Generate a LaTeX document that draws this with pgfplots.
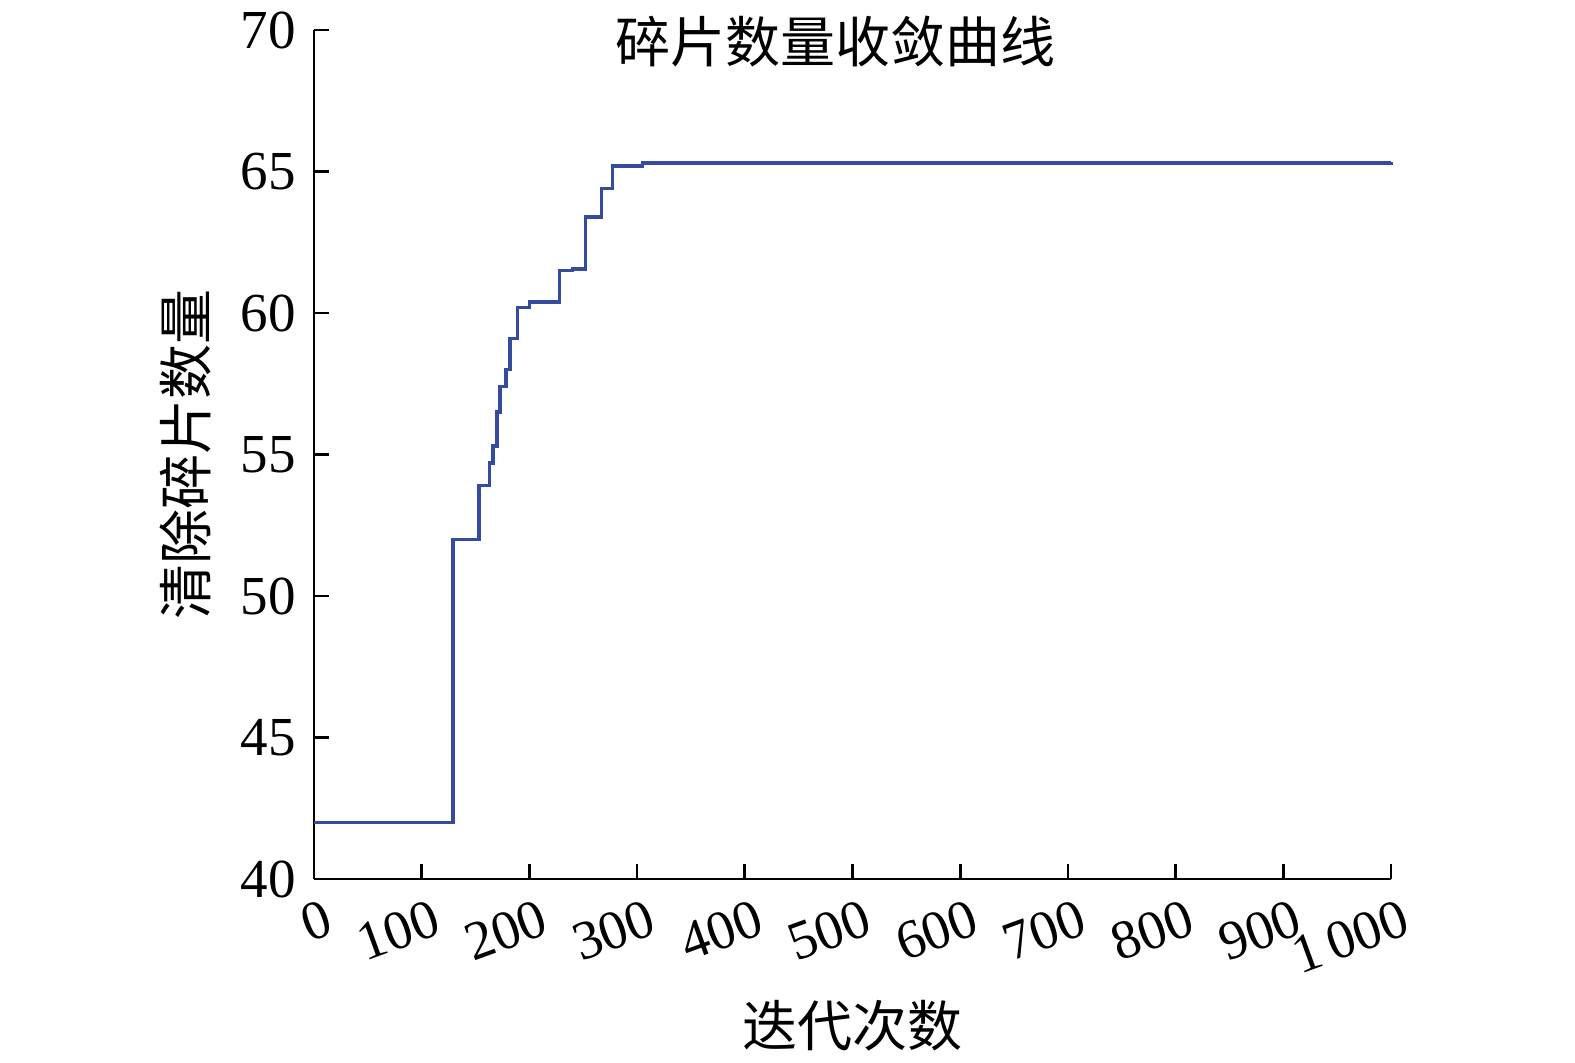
\documentclass[border=0pt]{standalone}
\usepackage{fontspec}
\setmainfont{Liberation Serif}
\newfontfamily\cjk{Noto Sans CJK SC}
\usepackage{pgfplots}
\pgfplotsset{compat=1.18}
\definecolor{lineblue}{RGB}{52,75,160}

\begin{document}
\begin{tikzpicture}
\begin{axis}[
    at={(0,0)}, anchor=south west,
    scale only axis,
    width=323.1pt, height=254.7pt,
    xmin=0, xmax=1000, ymin=40, ymax=70,
    axis x line=bottom, axis y line=left,
    axis line style={-, line width=0.8pt},
    tick align=inside,
    major tick length=4.5pt,
    tick style={line width=0.8pt, black},
    xtick={0,100,...,1000},
    xticklabels={0,100,200,300,400,500,600,700,800,900,1\,000},
    ytick={40,45,...,70},
    /pgf/number format/assume math mode=true,
    ticklabel style={font=\fontsize{16.5}{19}\selectfont},
    xticklabel style={rotate=20, anchor=north east, xshift=4pt, yshift=-3pt},
    yticklabel style={xshift=-2pt},
    xlabel={\cjk 迭代次数},
    ylabel={\cjk 清除碎片数量},
    label style={font=\fontsize{16.5}{19}\selectfont},
    xlabel style={yshift=0pt},
    ylabel style={yshift=2pt},
    clip=false,
]
\addplot[const plot, color=lineblue, line width=1.1pt] coordinates {
    (0,42) (129,52) (153,53.9) (163,54.7) (166,55.3) (170,56.5)
    (173,57.4) (178,58.0) (182,59.1) (189,60.2) (200,60.4)
    (228,61.5) (240,61.55) (252,63.4) (267,64.4) (277,65.2)
    (305,65.3) (1000,65.35)
};
\node[font=\fontsize{16.5}{19}\selectfont\cjk] at (rel axis cs:0.484,0.986) {碎片数量收敛曲线};
\end{axis}
\path[use as bounding box] (-94.2pt,-54pt) rectangle (378.3pt,263.7pt);
\end{tikzpicture}
\end{document}
